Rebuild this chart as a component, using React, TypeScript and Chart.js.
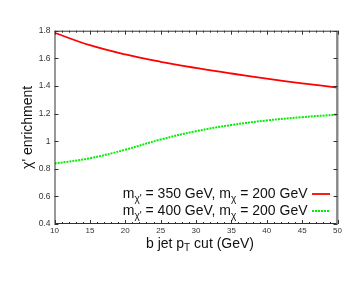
import React, { useEffect, useRef } from "react";
import { Chart, registerables } from "chart.js";

Chart.register(...registerables);

const xValues = [10, 15, 20, 25, 30, 35, 40, 45, 50];
const series350 = [1.785, 1.695, 1.628, 1.575, 1.53, 1.49, 1.453, 1.419, 1.388];
const series400 = [0.838, 0.876, 0.938, 1.012, 1.072, 1.117, 1.15, 1.174, 1.192];
const legendMasses = ["350", "400"];
const xTitleParts = ["b jet p", "T", " cut (GeV)"];
const yTitle = "\u03C7' enrichment";

const FONT = "'Liberation Sans', Arial, sans-serif";

const W = 363;
const H = 281;

const gnuplotDecor = {
  id: "gnuplotDecor",
  afterDatasetsDraw(chart: any) {
    const { ctx, chartArea: a, scales } = chart;
    const xs = scales.x;
    const ys = scales.y;
    ctx.save();
    ctx.strokeStyle = "#333";
    ctx.lineWidth = 1;
    ctx.strokeRect(a.left + 0.5, a.top + 0.5, a.right - a.left - 1, a.bottom - a.top - 1);
    ctx.strokeStyle = "#888";
    ctx.lineWidth = 2;
    ctx.beginPath();
    ctx.moveTo(a.right, a.top);
    ctx.lineTo(a.right, a.bottom);
    ctx.stroke();
    ctx.strokeStyle = "#333";
    ctx.lineWidth = 1;
    ctx.beginPath();
    for (let v = xs.min; v <= xs.max + 1e-6; v += 1) {
      const px = Math.round(xs.getPixelForValue(v)) + 0.5;
      const major = Math.abs(v % 5) < 1e-6;
      const len = major ? 4 : 2;
      ctx.moveTo(px, a.bottom);
      ctx.lineTo(px, a.bottom - len);
      ctx.moveTo(px, a.top);
      ctx.lineTo(px, a.top + len);
    }
    for (let v = ys.min; v <= ys.max + 1e-6; v += 0.2) {
      const py = Math.round(ys.getPixelForValue(v)) + 0.5;
      ctx.moveTo(a.left, py);
      ctx.lineTo(a.left + 4, py);
      ctx.moveTo(a.right, py);
      ctx.lineTo(a.right - 4, py);
    }
    ctx.stroke();

    ctx.fillStyle = "#111";
    ctx.textBaseline = "alphabetic";
    const big = `14px ${FONT}`;
    const small = `10px ${FONT}`;
    ctx.font = big;
    const w0 = ctx.measureText(xTitleParts[0]).width;
    const w2 = ctx.measureText(xTitleParts[2]).width;
    ctx.font = small;
    const w1 = ctx.measureText(xTitleParts[1]).width;
    const cx = (a.left + a.right) / 2 + 4;
    const x0 = cx - (w0 + w1 + w2) / 2;
    const base = a.bottom + 23.5;
    ctx.font = big;
    ctx.textAlign = "left";
    ctx.fillText(xTitleParts[0], x0, base);
    ctx.font = small;
    ctx.fillText(xTitleParts[1], x0 + w0, base + 3);
    ctx.font = big;
    ctx.fillText(xTitleParts[2], x0 + w0 + w1, base);

    ctx.save();
    ctx.translate(32, (a.top + a.bottom) / 2);
    ctx.rotate(-Math.PI / 2);
    ctx.font = big;
    ctx.textAlign = "center";
    ctx.fillText(yTitle, 0, 0);
    ctx.restore();

    const rightText = 307.5;
    const rows = [197.5, 214.5];
    chart.data.datasets.forEach((ds: any, i: number) => {
      const parts: [string, boolean][] = [
        ["m", false],
        ["\u03C7'", true],
        [` = ${legendMasses[i]} GeV, m`, false],
        ["\u03C7", true],
        [" = 200 GeV", false],
      ];
      let total = 0;
      const widths = parts.map(([t, sub]) => {
        ctx.font = sub ? small : big;
        const w = ctx.measureText(t).width;
        total += w;
        return w;
      });
      let x = rightText - total;
      ctx.fillStyle = "#111";
      ctx.textAlign = "left";
      parts.forEach(([t, sub], k) => {
        ctx.font = sub ? small : big;
        ctx.fillText(t, x, rows[i] + (sub ? 4 : 0));
        x += widths[k];
      });
      ctx.strokeStyle = ds.borderColor;
      ctx.lineWidth = ds.borderWidth;
      ctx.setLineDash(ds.borderDash || []);
      ctx.beginPath();
      ctx.moveTo(312, rows[i] - 3.5);
      ctx.lineTo(330, rows[i] - 3.5);
      ctx.stroke();
      ctx.setLineDash([]);
    });
    ctx.restore();
  },
};

export default function App() {
  const ref = useRef<HTMLCanvasElement>(null);
  useEffect(() => {
    if (!ref.current) return;
    const chart = new Chart(ref.current, {
      type: "line",
      data: {
        datasets: [
          {
            label: "350",
            data: xValues.map((x, i) => ({ x, y: series350[i] })),
            borderColor: "#ff0000",
            borderWidth: 1.8,
            pointRadius: 0,
            tension: 0.4,
            fill: false,
          },
          {
            label: "400",
            data: xValues.map((x, i) => ({ x, y: series400[i] })),
            borderColor: "#00ee00",
            borderWidth: 2,
            borderDash: [2, 1],
            pointRadius: 0,
            tension: 0.4,
            fill: false,
          },
        ],
      },
      options: {
        responsive: false,
        animation: false,
        layout: { padding: { top: 30.7, right: 25.5, left: 0, bottom: 0 } },
        plugins: { legend: { display: false }, tooltip: { enabled: false } },
        scales: {
          x: {
            type: "linear",
            min: 10,
            max: 50,
            grid: { display: false, drawTicks: false },
            border: { display: false },
            ticks: {
              stepSize: 5,
              padding: 2,
              color: "#333",
              font: { family: FONT, size: 8 },
              maxRotation: 0,
            },
            afterFit: (s: any) => {
              s.height = 57;
            },
          },
          y: {
            min: 0.4,
            max: 1.8,
            grid: { display: false, drawTicks: false },
            border: { display: false },
            ticks: {
              stepSize: 0.2,
              padding: 4,
              color: "#333",
              font: { family: FONT, size: 8.5 },
              callback: (v: any) => String(Number(Number(v).toFixed(1))),
            },
            afterFit: (s: any) => {
              s.width = 54.5;
            },
          },
        },
      },
      plugins: [gnuplotDecor],
    });
    return () => chart.destroy();
  }, []);
  return (
    <div style={{ position: "absolute", left: 0, top: 0, width: W, height: H, background: "#fff" }}>
      <canvas ref={ref} width={W} height={H} style={{ display: "block" }} />
    </div>
  );
}
